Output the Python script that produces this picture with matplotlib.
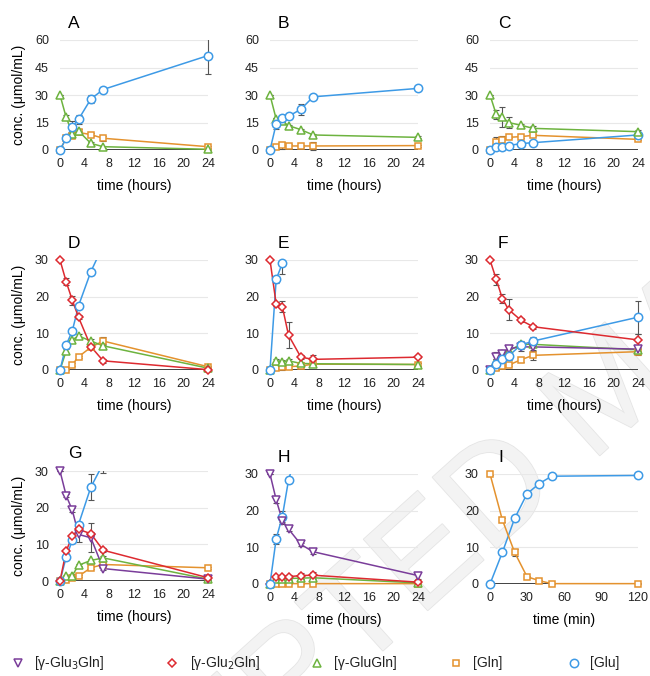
import numpy as np
import matplotlib
matplotlib.use("Agg")
import matplotlib.pyplot as plt
from matplotlib.lines import Line2D
from matplotlib.patches import Rectangle
import matplotlib.patheffects as pe

plt.rcParams['font.family'] = ['Liberation Sans', 'DejaVu Sans']

# sampling times
t_h = [0, 1, 2, 3, 5, 7, 24]
t_min = [0, 10, 20, 30, 40, 50, 120]

# panel A  (start: 30 umol/mL gamma-GluGln)
A_glugln = [30, 17.8, 9.0, 10.4, 3.6, 1.8, 0.4]
A_glugln_err = [0, 1.5, 1.0, 1.0, 1.0, 0.5, 0.3]
A_gln = [0, 6.5, 7.8, 9.6, 8.4, 6.4, 1.8]
A_gln_err = [0, 0.5, 1.0, 1.0, 1.0, 1.5, 0.5]
A_glu = [0, 6.4, 12.7, 16.7, 27.8, 33.0, 51.5]
A_glu_err = [0, 0.5, 3.0, 2.5, 2.0, 1.5, 10.0]

# panel B
B_glugln = [30, 16.9, 15.6, 13.3, 11.1, 8.2, 6.9]
B_glugln_err = [0, 0.5, 0.5, 0.5, 0.5, 0.5, 0.5]
B_gln = [0, 1.8, 2.5, 2.2, 2.2, 2.2, 2.4]
B_gln_err = [0, 0.5, 2.0, 1.0, 0.5, 2.0, 0.5]
B_glu = [0, 14.2, 17.3, 18.4, 22.2, 29.0, 33.6]
B_glu_err = [0, 3.0, 2.0, 1.5, 3.0, 1.0, 1.0]

# panel C
C_glugln = [30, 19.5, 18.0, 15.0, 13.5, 11.8, 10.0]
C_glugln_err = [0, 2.5, 5.5, 3.0, 0.5, 1.5, 0.8]
C_gln = [0, 4.5, 5.5, 6.9, 7.3, 8.0, 5.8]
C_gln_err = [0, 2.5, 2.0, 0.5, 0.5, 0.5, 0.5]
C_glu = [0, 1.6, 1.8, 2.4, 3.5, 4.0, 8.2]
C_glu_err = [0, 0.3, 0.3, 0.3, 0.5, 0.5, 0.5]

# panel D  (start: 30 umol/mL gamma-Glu2Gln)
D_glu2gln = [30, 24.1, 19.0, 14.4, 6.4, 2.5, 0.1]
D_glu2gln_err = [0, 1.0, 1.2, 0.5, 0.8, 0.5, 0.3]
D_glugln = [0, 5.2, 8.2, 9.3, 7.9, 6.6, 0.5]
D_glugln_err = [0, 0.5, 0.5, 0.5, 0.5, 0.5, 0.3]
D_gln = [0, 0.1, 1.5, 3.6, 6.2, 7.9, 0.9]
D_gln_err = [0, 0.2, 0.3, 0.3, 0.5, 1.0, 0.3]
D_glu = [0, 6.8, 10.7, 17.5, 26.8, 34.0, 50.0]
D_glu_err = [0, 0.5, 0.5, 0.5, 0.8, 1.0, 1.0]

# panel E
E_glu2gln = [30, 18.0, 17.3, 9.5, 3.5, 2.9, 3.5]
E_glu2gln_err = [0, 0.5, 1.5, 3.5, 0.5, 1.3, 0.3]
E_glugln = [0, 2.5, 2.3, 2.5, 1.8, 1.7, 1.5]
E_glugln_err = [0, 0.5, 0.5, 0.5, 0.3, 0.3, 0.3]
E_gln = [0, 0.6, 0.9, 0.9, 1.1, 1.6, 1.5]
E_gln_err = [0, 0.3, 1.0, 0.5, 0.3, 0.3, 0.5]
E_glu = [0, 24.7, 29.1, 38.0, 45.0, 48.0, 50.0]
E_glu_err = [0, 1.0, 3.0, 1.0, 1.0, 1.0, 1.0]

# panel F
F_glu2gln = [30, 24.8, 19.5, 16.5, 13.6, 11.8, 8.2]
F_glu2gln_err = [0, 1.5, 1.2, 2.8, 0.5, 0.5, 1.5]
F_glu3gln = [0, 3.5, 4.5, 5.8, 6.3, 6.3, 5.7]
F_glu3gln_err = [0, 1.5, 1.0, 0.8, 1.0, 0.8, 0.5]
F_glugln = [0, 2.5, 4.5, 5.2, 7.0, 7.0, 5.5]
F_glugln_err = [0, 0.5, 0.5, 0.5, 0.5, 0.5, 0.5]
F_gln = [0, 0.5, 1.0, 1.3, 2.8, 4.0, 5.0]
F_gln_err = [0, 0.3, 0.3, 0.3, 0.5, 1.2, 0.8]
F_glu = [0, 1.6, 3.0, 3.8, 6.8, 7.9, 14.4]
F_glu_err = [0, 1.5, 1.0, 1.0, 1.0, 1.0, 4.5]

# panel G  (start: 30 umol/mL gamma-Glu3Gln)
G_glu3gln = [30, 23.3, 19.3, 12.7, 11.8, 3.4, 0.5]
G_glu3gln_err = [0, 0.5, 0.5, 2.0, 4.0, 0.5, 0.3]
G_glu2gln = [0, 8.2, 12.2, 14.1, 12.9, 8.4, 0.9]
G_glu2gln_err = [0, 0.5, 0.5, 0.5, 0.5, 0.5, 0.3]
G_glugln = [0, 1.3, 1.5, 4.3, 5.6, 6.3, 0.5]
G_glugln_err = [0, 0.3, 0.3, 0.3, 0.5, 0.5, 0.3]
G_gln = [0, 0.3, 0.9, 1.3, 3.6, 4.5, 3.6]
G_gln_err = [0, 0.2, 0.2, 0.3, 0.3, 0.3, 0.3]
G_glu = [0, 6.5, 11.1, 15.4, 25.6, 32.0, 45.0]
G_glu_err = [0, 0.5, 0.5, 0.8, 3.5, 2.5, 1.0]

# panel H
H_glu3gln = [30, 23.0, 17.3, 15.0, 10.8, 8.8, 2.3]
H_glu3gln_err = [0, 1.0, 1.0, 0.5, 0.5, 0.5, 1.0]
H_glu2gln = [0, 2.0, 2.0, 2.0, 2.3, 2.4, 0.5]
H_glu2gln_err = [0, 0.5, 0.5, 0.5, 0.8, 0.8, 0.3]
H_glugln = [0, 1.5, 1.5, 1.5, 1.6, 1.7, 0.3]
H_glugln_err = [0, 0.3, 0.3, 0.3, 0.3, 0.3, 0.2]
H_gln = [0, 0.1, 0.1, 0.1, 0.1, 0.1, 0.1]
H_gln_err = [0, 0.1, 0.1, 0.1, 0.1, 0.1, 0.1]
H_glu = [0, 12.3, 18.4, 28.3, 40.0, 45.0, 50.0]
H_glu_err = [0, 1.3, 1.5, 0.8, 1.0, 1.0, 1.0]

# panel I  (minutes, Gln -> Glu)
I_gln = [30, 17.5, 8.6, 2.0, 0.9, 0.1, 0.1]
I_gln_err = [0.3, 0.5, 1.0, 0.3, 0.3, 0.1, 0.1]
I_glu = [0, 8.6, 17.9, 24.6, 27.4, 29.4, 29.6]
I_glu_err = [0, 0.3, 0.3, 0.3, 0.8, 0.5, 0.3]

legend_labels = [r'[γ-Glu$_3$Gln]', r'[γ-Glu$_2$Gln]', '[γ-GluGln]', '[Gln]', '[Glu]']

c_glu3 = '#7a3d9a'
c_glu2 = '#dd2a30'
c_glugln = '#6db33f'
c_gln = '#e4922e'
c_glu = '#3d9ae6'
style = {
    'glu3gln': (c_glu3, 'v'),
    'glu2gln': (c_glu2, 'D'),
    'glugln': (c_glugln, '^'),
    'gln': (c_gln, 's'),
    'glu': (c_glu, 'o'),
}
msize = {'v': 5.5, 'D': 4.5, '^': 5.5, 's': 5, 'o': 6}

W, H = 650, 676
fig = plt.figure(figsize=(W / 100, H / 100), dpi=100)

# faint watermark, behind the axes
fig.text(613 / W, 1 - 395 / H, 'ACCEPTED MANUSCRIPT', rotation=42, rotation_mode='anchor',
         ha='center', va='center', fontsize=100, color='#f3f3f3', zorder=-1,
         path_effects=[pe.withStroke(linewidth=1.2, foreground='#e5e5e5')])


def px_axes(x0, y0, x1, y1):
    ax = fig.add_axes([x0 / W, 1 - y1 / H, (x1 - x0) / W, (y1 - y0) / H])
    ax.patch.set_alpha(0)
    return ax


def series(ax, t, y, err, key, ymax):
    color, mk = style[key]
    y = np.asarray(y, float)
    err = np.asarray(err, float)
    # clip only at the top/bottom, not at the left/right edges
    clip = Rectangle((-0.06, -0.1), 1.12, 1.1, transform=ax.transAxes)
    eb = ax.errorbar(t, y, yerr=err, fmt='none', ecolor='#555555', elinewidth=0.8,
                     capsize=2, capthick=0.8, zorder=3)
    for art in list(eb[1]) + list(eb[2]):
        art.set_clip_path(clip)
    ln, = ax.plot(t, y, color=color, lw=1.1, zorder=4)
    ln.set_clip_path(clip)
    vis = np.where(y <= ymax * 1.001, y, np.nan)
    ax.plot(t, vis, ls='none', marker=mk, ms=msize[mk], mfc='white', mec=color,
            mew=1.1, clip_on=False, zorder=5)


def setup(ax, letter, xmax, xticks, ymax, yticks, xlabel, ylabel=False):
    ax.set_xlim(0, xmax)
    ax.set_ylim(0, ymax)
    ax.set_xticks(xticks)
    ax.set_yticks(yticks)
    for s in ax.spines.values():
        s.set_visible(False)
    ax.tick_params(length=0, labelsize=9, colors='#222222')
    ax.tick_params(axis='x', pad=6)
    ax.tick_params(axis='y', pad=8)
    for yt in yticks[1:]:
        ax.axhline(yt, color='#e8e8e8', lw=0.8, zorder=1)
    ax.axhline(0, color='#333333', lw=1.3, zorder=2)
    ax.set_xlabel(xlabel, fontsize=10)
    ax.xaxis.set_label_coords(0.5, -36 / 110)
    ax.xaxis.label.set_va('center')
    if ylabel:
        ax.set_ylabel('conc. (μmol/mL)', fontsize=10)
        ax.yaxis.set_label_coords(-41 / 148, 0.5)
        ax.yaxis.label.set_va('center')
    ax.text(8 / 148, 1 + 17 / 110, letter, transform=ax.transAxes, fontsize=12.5,
            ha='left', va='center')


hours_ticks = [0, 4, 8, 12, 16, 20, 24]

# row 1
ax = px_axes(60, 40, 208, 150)
setup(ax, 'A', 24, hours_ticks, 60, [0, 15, 30, 45, 60], 'time (hours)', True)
series(ax, t_h, A_gln, A_gln_err, 'gln', 60)
series(ax, t_h, A_glugln, A_glugln_err, 'glugln', 60)
series(ax, t_h, A_glu, A_glu_err, 'glu', 60)

ax = px_axes(270, 40, 418, 150)
setup(ax, 'B', 24, hours_ticks, 60, [0, 15, 30, 45, 60], 'time (hours)')
series(ax, t_h, B_gln, B_gln_err, 'gln', 60)
series(ax, t_h, B_glugln, B_glugln_err, 'glugln', 60)
series(ax, t_h, B_glu, B_glu_err, 'glu', 60)

ax = px_axes(490, 40, 638, 150)
setup(ax, 'C', 24, hours_ticks, 60, [0, 15, 30, 45, 60], 'time (hours)')
series(ax, t_h, C_gln, C_gln_err, 'gln', 60)
series(ax, t_h, C_glu, C_glu_err, 'glu', 60)
series(ax, t_h, C_glugln, C_glugln_err, 'glugln', 60)

# row 2
ax = px_axes(60, 260, 208, 370)
setup(ax, 'D', 24, hours_ticks, 30, [0, 10, 20, 30], 'time (hours)', True)
series(ax, t_h, D_gln, D_gln_err, 'gln', 30)
series(ax, t_h, D_glugln, D_glugln_err, 'glugln', 30)
series(ax, t_h, D_glu, D_glu_err, 'glu', 30)
series(ax, t_h, D_glu2gln, D_glu2gln_err, 'glu2gln', 30)

ax = px_axes(270, 260, 418, 370)
setup(ax, 'E', 24, hours_ticks, 30, [0, 10, 20, 30], 'time (hours)')
series(ax, t_h, E_gln, E_gln_err, 'gln', 30)
series(ax, t_h, E_glugln, E_glugln_err, 'glugln', 30)
series(ax, t_h, E_glu, E_glu_err, 'glu', 30)
series(ax, t_h, E_glu2gln, E_glu2gln_err, 'glu2gln', 30)

ax = px_axes(490, 260, 638, 370)
setup(ax, 'F', 24, hours_ticks, 30, [0, 10, 20, 30], 'time (hours)')
series(ax, t_h, F_gln, F_gln_err, 'gln', 30)
series(ax, t_h, F_glugln, F_glugln_err, 'glugln', 30)
series(ax, t_h, F_glu3gln, F_glu3gln_err, 'glu3gln', 30)
series(ax, t_h, F_glu, F_glu_err, 'glu', 30)
series(ax, t_h, F_glu2gln, F_glu2gln_err, 'glu2gln', 30)

# row 3
ax = px_axes(60, 471, 208, 581)
setup(ax, 'G', 24, hours_ticks, 30, [0, 10, 20, 30], 'time (hours)', True)
series(ax, t_h, G_gln, G_gln_err, 'gln', 30)
series(ax, t_h, G_glugln, G_glugln_err, 'glugln', 30)
series(ax, t_h, G_glu, G_glu_err, 'glu', 30)
series(ax, t_h, G_glu3gln, G_glu3gln_err, 'glu3gln', 30)
series(ax, t_h, G_glu2gln, G_glu2gln_err, 'glu2gln', 30)

ax = px_axes(270, 474, 418, 584)
setup(ax, 'H', 24, hours_ticks, 30, [0, 10, 20, 30], 'time (hours)')
series(ax, t_h, H_gln, H_gln_err, 'gln', 30)
series(ax, t_h, H_glugln, H_glugln_err, 'glugln', 30)
series(ax, t_h, H_glu2gln, H_glu2gln_err, 'glu2gln', 30)
series(ax, t_h, H_glu, H_glu_err, 'glu', 30)
series(ax, t_h, H_glu3gln, H_glu3gln_err, 'glu3gln', 30)

ax = px_axes(490, 474, 638, 584)
setup(ax, 'I', 120, [0, 30, 60, 90, 120], 30, [0, 10, 20, 30], 'time (min)')
series(ax, t_min, I_glu, I_glu_err, 'glu', 30)
series(ax, t_min, I_gln, I_gln_err, 'gln', 30)

# legend row along the bottom
leg_marker_x = [18, 172, 317, 456, 574]
leg_text_x = [34, 190, 334, 473, 590]
leg_y = 1 - 663 / H
for key, lab, mx, tx in zip(['glu3gln', 'glu2gln', 'glugln', 'gln', 'glu'],
                            legend_labels, leg_marker_x, leg_text_x):
    color, mk = style[key]
    fig.add_artist(Line2D([mx / W], [leg_y], transform=fig.transFigure, ls='none',
                          marker=mk, ms=msize[mk], mfc='white', mec=color, mew=1.1))
    fig.text(tx / W, leg_y, lab, fontsize=10, ha='left', va='center', color='#222222')

fig.savefig('out.png', dpi=100)
